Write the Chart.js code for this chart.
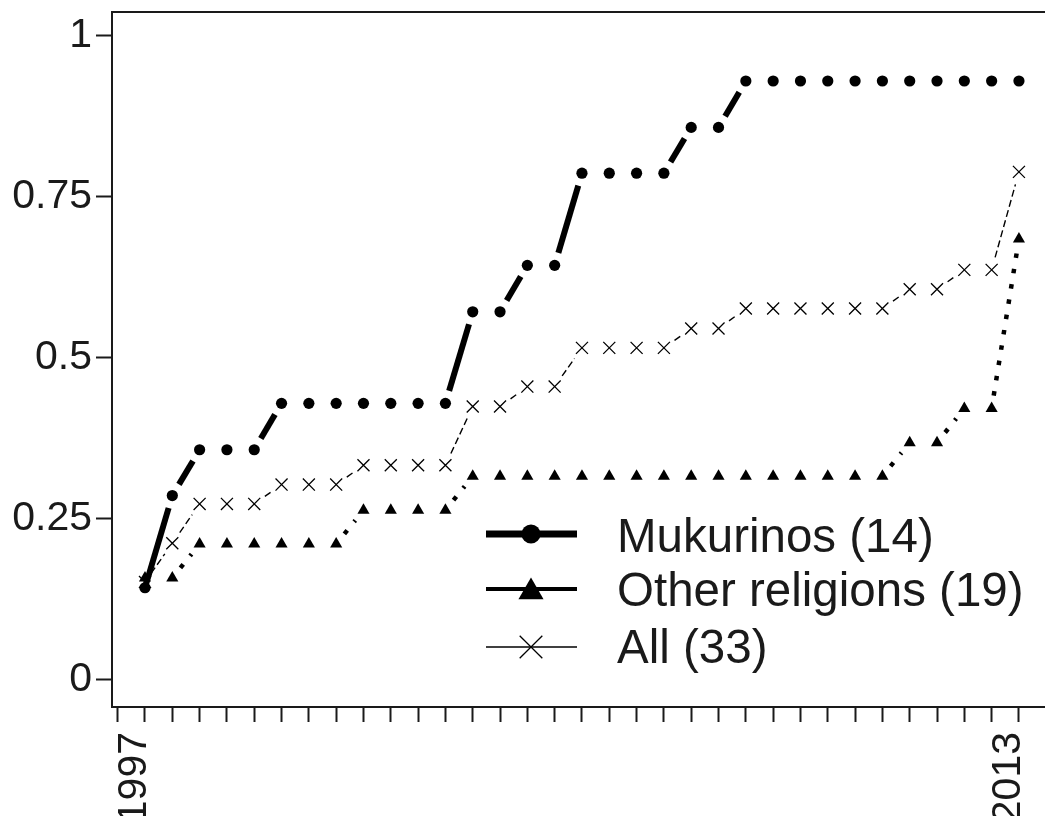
<!DOCTYPE html>
<html>
<head>
<meta charset="utf-8">
<script src="https://cdn.jsdelivr.net/npm/chart.js@4.4.1/dist/chart.umd.min.js"></script>
<style>
html,body{margin:0;padding:0;background:#fff;overflow:hidden}
#wrap{width:1045px;height:816px;position:relative;background:#fff}
canvas{display:block}
</style>
</head>
<body>
<div id="wrap"><canvas id="c" width="1045" height="816"></canvas></div>
<script>
// ---- data ----
const years = [1997,1997.5,1998,1998.5,1999,1999.5,2000,2000.5,2001,2001.5,2002,2002.5,2003,2003.5,2004,2004.5,2005,2005.5,2006,2006.5,2007,2007.5,2008,2008.5,2009,2009.5,2010,2010.5,2011,2011.5,2012,2012.5,2013];
const mukurinos = [0.143,0.286,0.357,0.357,0.357,0.429,0.429,0.429,0.429,0.429,0.429,0.429,0.571,0.571,0.643,0.643,0.786,0.786,0.786,0.786,0.857,0.857,0.929,0.929,0.929,0.929,0.929,0.929,0.929,0.929,0.929,0.929,0.929];
const otherReligions = [0.158,0.158,0.211,0.211,0.211,0.211,0.211,0.211,0.263,0.263,0.263,0.263,0.316,0.316,0.316,0.316,0.316,0.316,0.316,0.316,0.316,0.316,0.316,0.316,0.316,0.316,0.316,0.316,0.368,0.368,0.421,0.421,0.684];
const allGroups = [0.152,0.212,0.273,0.273,0.273,0.303,0.303,0.303,0.333,0.333,0.333,0.333,0.424,0.424,0.455,0.455,0.515,0.515,0.515,0.515,0.545,0.545,0.576,0.576,0.576,0.576,0.576,0.576,0.606,0.606,0.636,0.636,0.788];
const seriesLabels = ['Mukurinos (14)','Other religions (19)','All (33)'];
const xTickValues = [1996.5,1997,1997.5,1998,1998.5,1999,1999.5,2000,2000.5,2001,2001.5,2002,2002.5,2003,2003.5,2004,2004.5,2005,2005.5,2006,2006.5,2007,2007.5,2008,2008.5,2009,2009.5,2010,2010.5,2011,2011.5,2012,2012.5,2013];
const xLabeled = [1997,2013];
const yTickValues = [0,0.25,0.5,0.75,1];
const yTickLabels = ['0','0.25','0.5','0.75','1'];

// ---- styling ----
const FONT = "'Liberation Sans', Arial, Helvetica, sans-serif";
const INK = '#1a1a1a';

function toPoints(vals){ return years.map((x,i)=>({x:x, y:vals[i]})); }

// dash pattern per segment: blank near the markers, pattern in between
function gapDash(on, off, gap){
  return function(ctx){
    const L = Math.hypot(ctx.p1.x-ctx.p0.x, ctx.p1.y-ctx.p0.y);
    const g0 = ctx.p0DataIndex === 0 ? 0.0001 : gap;
    const span = L - g0 - gap;
    const uniq = 10000 + ctx.p0DataIndex*0.013 + ctx.datasetIndex*0.0011;
    const pat = [0, g0];
    if (span > 4){
      let pos = 0;
      const d0 = on > 0 ? on : span;
      while (pos < span){
        const d = Math.min(d0, span-pos);
        pat.push(d); pos += d;
        pat.push(off); pos += off;
      }
      pat[pat.length-1] = uniq;
    } else {
      pat[1] = uniq;
    }
    return pat;
  };
}

const legendPlugin = {
  id:'insideLegend',
  afterDatasetsDraw(chart){
    const c = chart.ctx;
    const rows = [
      {y:534, ty:539, lw:7,   style:'circle',   r:9.5, bw:0},
      {y:589, ty:593, lw:4,   style:'triangle', r:14.5, bw:0},
      {y:647, ty:650, lw:1.3, style:'crossRot', r:16, bw:1.3}
    ];
    c.save();
    rows.forEach((row,i)=>{
      c.strokeStyle = '#000';
      c.lineWidth = row.lw;
      c.lineCap = 'butt';
      c.setLineDash([]);
      c.beginPath();
      c.moveTo(486, row.y);
      c.lineTo(577, row.y);
      c.stroke();
      c.fillStyle = '#000';
      c.strokeStyle = '#000';
      c.lineWidth = row.bw;
      const ty = row.style==='triangle' ? row.y + 3 : row.y;
      Chart.helpers.drawPoint(c, {pointStyle:row.style, radius:row.r, rotation:0, borderWidth:row.bw}, 531, ty);
      c.fillStyle = INK;
      c.font = '47.5px ' + FONT;
      c.textBaseline = 'middle';
      c.textAlign = 'left';
      c.fillText(chart.data.datasets[i].label, 617, row.ty);
    });
    c.restore();
  }
};

new Chart(document.getElementById('c'), {
  type:'line',
  data:{
    datasets:[
      {
        label: seriesLabels[0], data: toPoints(mukurinos),
        borderColor:'#000', borderWidth:6, borderCapStyle:'butt',
        pointStyle:'circle', pointRadius:5.6, pointBackgroundColor:'#000', pointBorderColor:'#000', pointBorderWidth:0,
        segment:{ borderDash: gapDash(0, 0, 13) }
      },
      {
        label: seriesLabels[1], data: toPoints(otherReligions),
        borderColor:'#000', borderWidth:4.5, borderCapStyle:'butt',
        pointStyle:'triangle', pointRadius:7, pointBackgroundColor:'#000', pointBorderColor:'#000', pointBorderWidth:0,
        segment:{ borderDash: gapDash(4.5, 11, 13) }
      },
      {
        label: seriesLabels[2], data: toPoints(allGroups),
        borderColor:'#000', borderWidth:1.4, borderCapStyle:'butt',
        pointStyle:'crossRot', pointRadius:8.5, pointBackgroundColor:'#000', pointBorderColor:'#000', pointBorderWidth:1.3,
        segment:{ borderDash: gapDash(7, 3.5, 13) }
      }
    ]
  },
  options:{
    responsive:false,
    devicePixelRatio:1,
    animation:false,
    layout:{ autoPadding:false, padding:{ top:12, left:0, right:0, bottom:0 } },
    plugins:{ legend:{ display:false }, tooltip:{ enabled:false } },
    elements:{ line:{ tension:0 } },
    scales:{
      x:{
        type:'linear', position:'bottom', min:1996.396, max:2013.477,
        afterBuildTicks: s => { s.ticks = xTickValues.map(v=>({value:v})); },
        afterFit: s => { s.height = 109; s.paddingLeft = 0; s.paddingRight = 0; },
        ticks:{
          autoSkip:false, minRotation:90, maxRotation:90, padding:10, labelOffset:-10,
          color:INK, font:{ family:FONT, size:41 },
          callback: v => xLabeled.includes(v) ? String(v) : ''
        },
        grid:{ drawOnChartArea:false, drawTicks:true, tickLength:15, tickWidth:2, tickColor:INK },
        border:{ display:true, color:INK, width:2 }
      },
      xTop:{
        type:'linear', position:'top', min:1996.396, max:2013.477,
        ticks:{ display:false },
        afterFit: s => { s.height = 0; s.paddingLeft = 0; s.paddingRight = 0; },
        grid:{ drawOnChartArea:false, drawTicks:false },
        border:{ display:true, color:INK, width:2 }
      },
      y:{
        type:'linear', position:'left', min:-0.042, max:1.036,
        afterBuildTicks: s => { s.ticks = yTickValues.map(v=>({value:v})); },
        afterFit: s => { s.width = 112; s.paddingTop = 0; s.paddingBottom = 0; },
        ticks:{
          padding:4, color:INK, font:{ family:FONT, size:41 },
          callback: v => { const k = yTickValues.indexOf(v); return k >= 0 ? yTickLabels[k] : ''; }
        },
        grid:{ drawOnChartArea:false, drawTicks:true, tickLength:16, tickWidth:2, tickColor:INK },
        border:{ display:true, color:INK, width:2 }
      }
    }
  },
  plugins:[legendPlugin]
});
</script>
</body>
</html>
